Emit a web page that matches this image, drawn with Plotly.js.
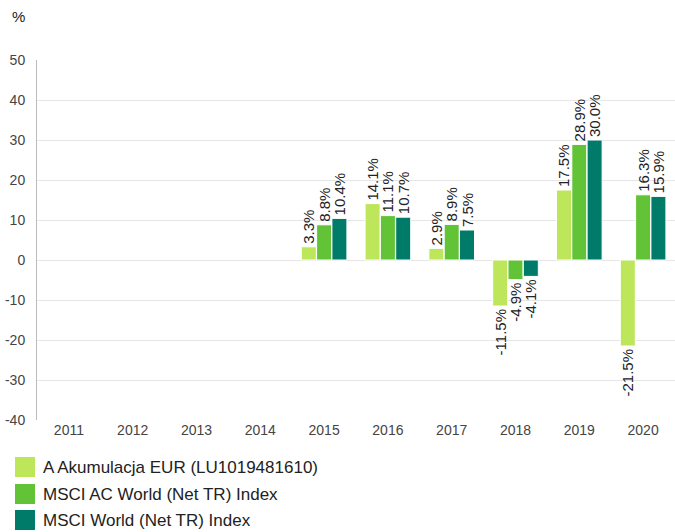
<!DOCTYPE html>
<html><head><meta charset="utf-8">
<script src="https://cdn.plot.ly/plotly-3.0.1.min.js"></script>
<style>body{margin:0;padding:0;background:#fff}#chart{width:675px;height:532px}</style>
</head><body><div id="chart"></div>
<script>
const years = ['2011','2012','2013','2014','2015','2016','2017','2018','2019','2020'];
const seriesNames = ['A Akumulacja EUR (LU1019481610)','MSCI AC World (Net TR) Index','MSCI World (Net TR) Index'];
const fundVals = [null,null,null,null,3.3,14.1,2.9,-11.5,17.5,-21.5];
const acwiVals = [null,null,null,null,8.8,11.1,8.9,-4.9,28.9,16.3];
const worldVals = [null,null,null,null,10.4,10.7,7.5,-4.1,30.0,15.9];
const colors = ['#bde65a','#63c337','#007a69'];
const yTicks = [-40,-30,-20,-10,0,10,20,30,40,50];

const allVals = [fundVals, acwiVals, worldVals];
const traces = allVals.map((v,i)=>({
  type:'bar', x:years, y:v, name:seriesNames[i],
  marker:{color:colors[i], line:{color:'#ffffff', width:1}},
  text:v.map(d=>d==null?'':d.toFixed(1)+'%'),
  textposition:'outside', textangle:-90, constraintext:'none',
  textfont:{family:'Liberation Sans, Arial, sans-serif', size:15, color:'#222'},
  cliponaxis:false, hoverinfo:'none', showlegend:false
}));

const L=37, R=675, T=60, B=420;
const px = x => (x-L)/(R-L);
const py = y => (B-y)/(B-T);
const shapes = [], annotations = [];
const legY = [467,494,520];
seriesNames.forEach((n,i)=>{
  shapes.push({type:'rect', xref:'paper', yref:'paper', x0:px(15), x1:px(35), y0:py(legY[i]-10), y1:py(legY[i]+10), fillcolor:colors[i], line:{width:0}});
  annotations.push({xref:'paper', yref:'paper', x:px(41), y:py(legY[i]), xanchor:'left', yanchor:'middle', showarrow:false, text:n, font:{family:'Liberation Sans, Arial, sans-serif', size:17, color:'#222'}});
});
annotations.push({xref:'paper', yref:'paper', x:px(10), y:py(16), xanchor:'left', yanchor:'middle', showarrow:false, text:'%', font:{family:'Liberation Sans, Arial, sans-serif', size:15, color:'#222'}});

Plotly.newPlot('chart', traces, {
  width:675, height:532,
  margin:{l:L, r:675-R, t:T, b:532-B},
  paper_bgcolor:'#fff', plot_bgcolor:'#fff',
  barmode:'group', bargap:0.28, bargroupgap:0.02,
  font:{family:'Liberation Sans, Arial, sans-serif', size:14, color:'#444'},
  xaxis:{type:'category', showgrid:false, zeroline:false, showline:false, ticks:'', tickfont:{size:14,color:'#444'}},
  yaxis:{range:[-40,50], tickvals:yTicks, ticktext:yTicks.map(String), showgrid:true, gridcolor:'#e6e6e6', gridwidth:1, zeroline:true, zerolinecolor:'#e6e6e6', zerolinewidth:1, showline:true, linecolor:'#bbbbbb', linewidth:1, ticks:'', ticklabelstandoff:8, tickfont:{size:14,color:'#444'}},
  shapes:shapes, annotations:annotations, showlegend:false
}, {staticPlot:true});
</script></body></html>
